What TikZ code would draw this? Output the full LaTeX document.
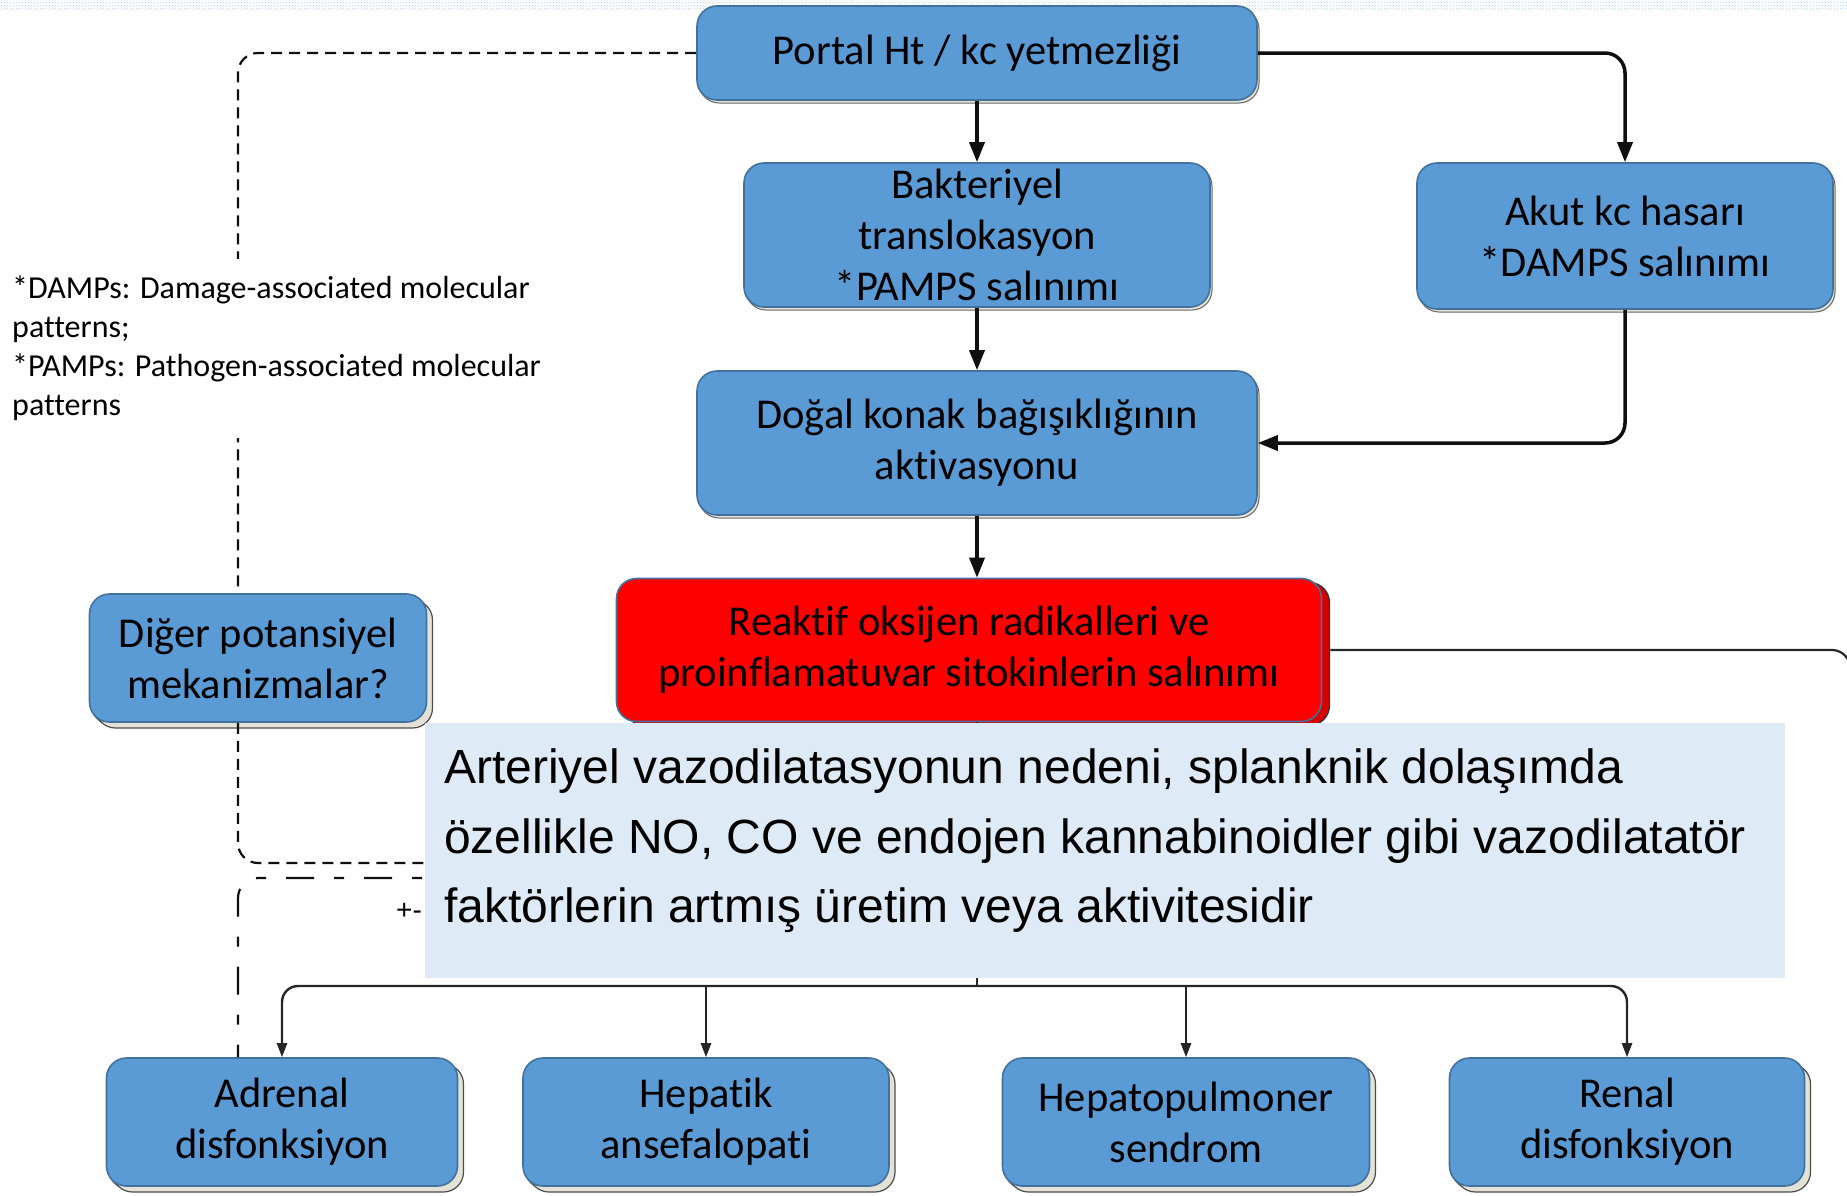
\documentclass[tikz,border=0pt]{standalone}
\usepackage{fontspec}
\setmainfont{Carlito}[Ligatures=NoCommon]
\newfontfamily\arialfont{Liberation Sans}
\usepackage{tikz}
\usetikzlibrary{arrows.meta, positioning, calc, shadows, patterns}
\definecolor{boxblue}{RGB}{91,155,213}
\definecolor{boxedge}{RGB}{65,113,156}
\definecolor{shadebeige}{RGB}{228,226,214}
\definecolor{myred}{RGB}{255,0,0}
\definecolor{redshade}{RGB}{215,0,0}
\definecolor{paleblue}{RGB}{222,234,246}
\definecolor{dotblue}{RGB}{185,205,228}
\definecolor{mydark}{RGB}{15,15,15}
\tikzset{
  block/.style={rectangle, draw=boxedge, fill=boxblue, line width=1.6pt,
    rounded corners=20pt, align=center, inner sep=0pt,
    font=\fontsize{42.5}{51}\selectfont,
    copy shadow={shadow xshift=2pt, shadow yshift=-3pt, fill=shadebeige, draw=black!60, line width=1pt}},
  shadeblock/.style={block,
    copy shadow={shadow xshift=6pt, shadow yshift=-6pt, fill=shadebeige, draw=black!70, line width=1.2pt}},
  redblock/.style={rectangle, draw=boxedge, fill=myred, line width=1.6pt,
    rounded corners=20pt, align=center, inner sep=0pt,
    font=\fontsize{42.5}{51}\selectfont,
    copy shadow={shadow xshift=8pt, shadow yshift=-4pt, fill=redshade, draw=black!80, line width=1.2pt}},
  notebox/.style={fill=white, align=left, inner xsep=2pt, inner ysep=17pt,
    font=\fontsize{32}{39}\selectfont},
  ovlbox/.style={rectangle, fill=paleblue, inner sep=0pt},
  ovltext/.style={align=left, inner sep=0pt, font=\arialfont\fontsize{48}{69.5}\selectfont},
  arrow/.style={-{Triangle[length=20pt,width=15pt]}, line width=3.5pt, color=mydark, rounded corners=20pt},
  thinarrow/.style={-{Triangle[length=14pt,width=10pt]}, line width=2.4pt, color=black!85, rounded corners=16pt},
  line/.style={line width=2.2pt, color=black!85, rounded corners=18pt},
  dashline/.style={dash pattern=on 11pt off 7pt, line width=2.2pt, color=mydark, rounded corners=20pt},
  longdash/.style={dash pattern=on 10pt off 20pt on 28pt off 20pt, line width=2.2pt, color=mydark, rounded corners=20pt}
}
\begin{document}
\begin{tikzpicture}[x=1pt, y=-1pt]
  \useasboundingbox (0,0) rectangle (1847,1195);
  \fill[pattern=crosshatch dots, pattern color=dotblue] (0,0) rectangle (1847,10);

  \node[block, minimum width=560pt, minimum height=94pt] (P) at (977,53) {Portal Ht / kc yetmezliği};
  \node[block, minimum width=466pt, minimum height=144pt] (T) at (977,235) {Bakteriyel\\translokasyon\\*PAMPS salınımı};
  \node[block, minimum width=416pt, minimum height=146pt] (K) at (1625,236) {Akut kc hasarı\\*DAMPS salınımı};
  \node[block, minimum width=560pt, minimum height=144pt] (D) at (977,443) {Doğal konak bağışıklığının\\aktivasyonu};
  \node[redblock, minimum width=705pt, minimum height=143pt] (R) at (969,650) {Reaktif oksijen radikalleri ve\\proinflamatuvar sitokinlerin salınımı};
  \node[shadeblock, minimum width=337pt, minimum height=128pt] (G) at (258,658) {Diğer potansiyel\\mekanizmalar?};

  \node[shadeblock, minimum width=351pt, minimum height=128pt] (Ad) at (282,1122) {Adrenal\\disfonksiyon};
  \node[shadeblock, minimum width=366pt, minimum height=128pt] (He) at (706,1122) {Hepatik\\ansefalopati};
  \node[shadeblock, minimum width=367pt, minimum height=128pt] (Hp) at (1186,1122) {Hepatopulmoner\\sendrom};
  \node[shadeblock, minimum width=355pt, minimum height=128pt] (Rn) at (1627,1122) {Renal\\disfonksiyon};

  \coordinate (dx) at (238,0);
  \coordinate (hubA) at (500,863);
  \coordinate (hubB) at (500,878);
  \coordinate (bus) at (977,986);
  \coordinate (off) at (1850,760);

  % dashed feedback
  \draw[dashline] (P.west) -| (G.north -| dx);
  \draw[dashline] (G.south -| dx) |- (hubA);
  \draw[longdash] (hubB) -| (Ad.north -| dx);

  \draw[arrow] (P) -- (T);
  \draw[arrow] (T) -- (D);
  \draw[arrow] (D.south) -- (D.south |- R.north);
  \draw[arrow] (P.east) -| (K.north);
  \draw[arrow] (K.south) |- (D.east);
  \draw[line] ([xshift=8pt]R.east) -| (off);

  \draw[line] (R.south -| bus) -- (bus);
  \draw[thinarrow] (bus) -| (Ad.north);
  \draw[thinarrow] (bus) -| (Rn.north);
  \draw[thinarrow] (bus -| He.north) -- (He.north);
  \draw[thinarrow] (bus -| Hp.north) -- (Hp.north);

  \node[notebox, anchor=north west] (N) at (10,259) {*DAMPs: Damage-associated molecular\\patterns;\\*PAMPs: Pathogen-associated molecular\\patterns};
  \node[font=\arialfont\fontsize{28}{30}\selectfont] (pm) at (409,911) {+-};

  \node[ovlbox, anchor=north west, minimum width=1360pt, minimum height=255pt] (O) at (425,723) {};
  \node[ovltext, anchor=north west] (Ot) at (444,749) {Arteriyel vazodilatasyonun nedeni, splanknik dolaşımda\\özellikle NO, CO ve endojen kannabinoidler gibi vazodilatatör\\faktörlerin artmış üretim veya aktivitesidir};
\end{tikzpicture}
\end{document}
